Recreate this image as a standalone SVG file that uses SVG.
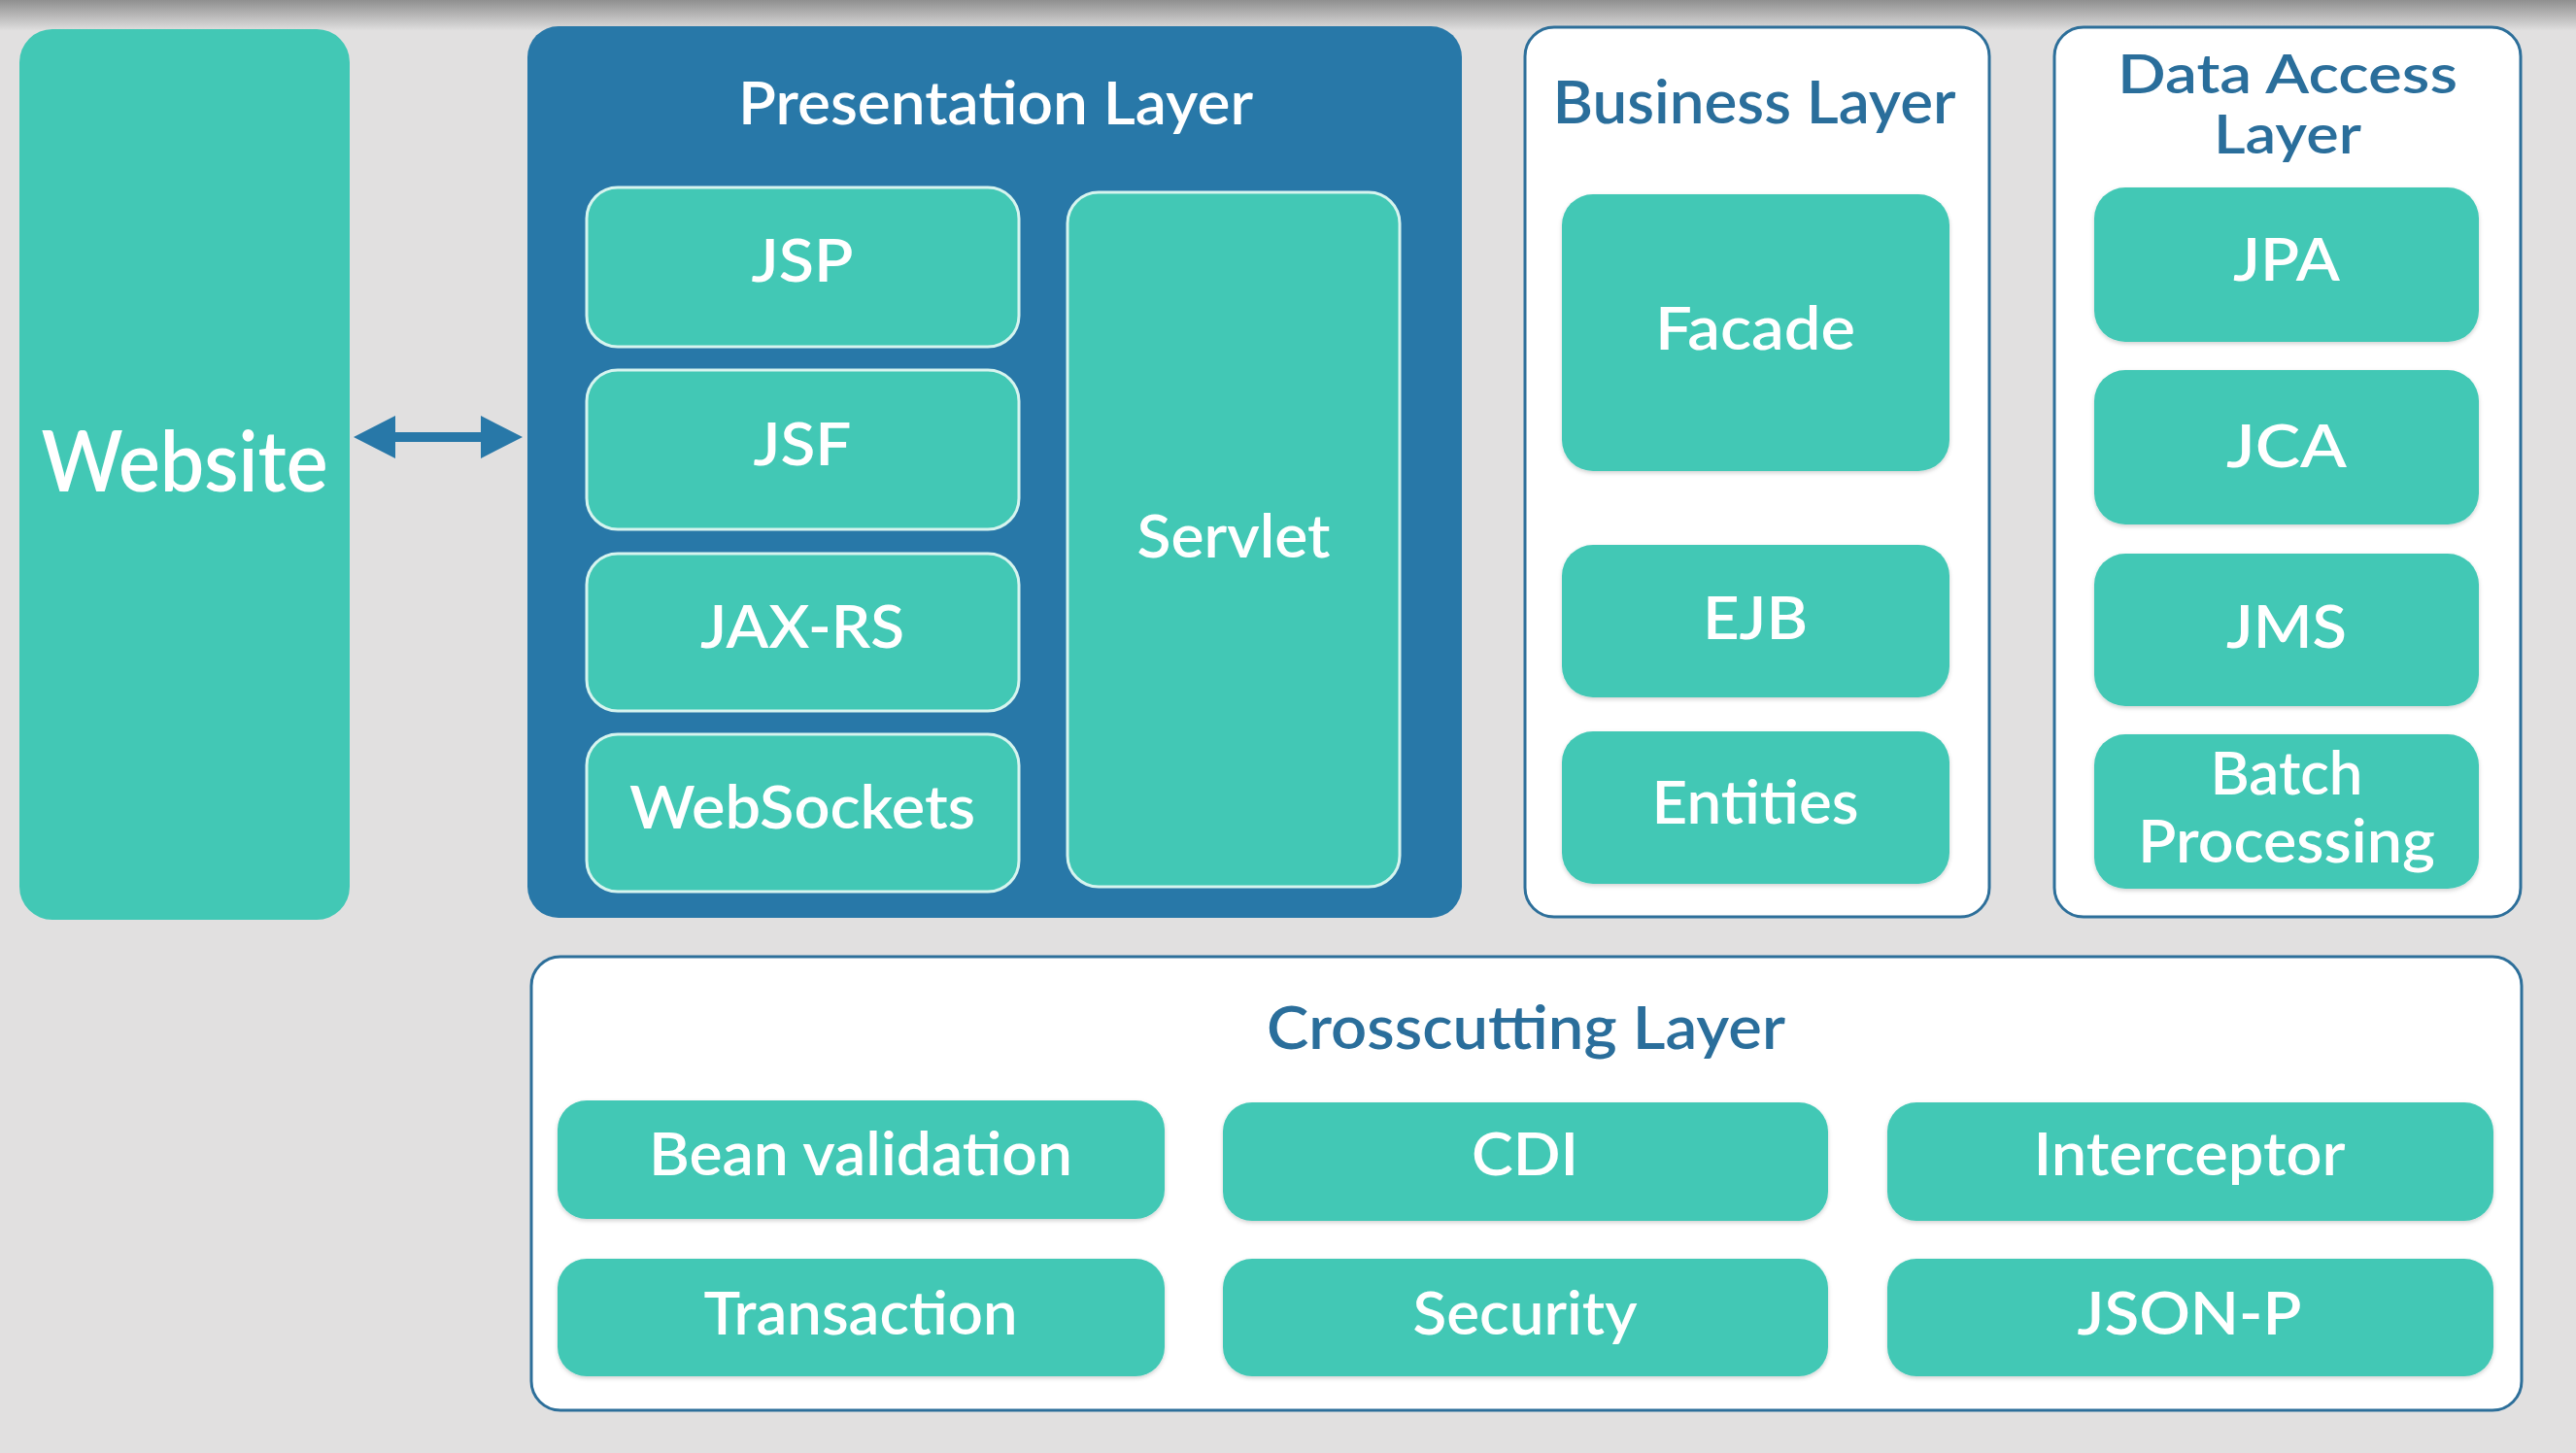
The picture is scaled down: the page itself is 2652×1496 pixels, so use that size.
<svg xmlns="http://www.w3.org/2000/svg" width="2652" height="1496" viewBox="0 0 2652 1496">
<defs>
<linearGradient id="topShade" x1="0" y1="0" x2="0" y2="1">
<stop offset="0" stop-color="#8f8f8f"/>
<stop offset="1" stop-color="#e1e0e0"/>
</linearGradient>
<filter id="sh" x="-5%" y="-5%" width="110%" height="115%">
<feDropShadow dx="0" dy="2" stdDeviation="2" flood-color="#000" flood-opacity="0.18"/>
</filter>
</defs>
<style>
.bg{fill:#e1e0e0}
.teal{fill:#42c8b5}
.tealb{fill:#42c8b5;stroke:#d6f4ef;stroke-width:3}
.pres{fill:#2878a8}
.white{fill:#ffffff;stroke:#2d6f9a;stroke-width:3}
.lbl{font-family:Lato,"Noto Sans","Liberation Sans",sans-serif;font-weight:600;fill:#ffffff;text-anchor:middle;font-size:62px}
.ttl{font-family:Lato,"Noto Sans","Liberation Sans",sans-serif;font-weight:600;fill:#2a6e9b;text-anchor:middle;font-size:62px}
.big{font-size:86px}
.two{font-size:56px}
.conn{fill:#2878a8;stroke:none}
</style>
<rect class="bg" x="0" y="0" width="2652" height="1496"/>
<rect x="0" y="0" width="2652" height="32" fill="url(#topShade)"/>

<g id="website">
<rect class="teal" x="20" y="30" width="340" height="917" rx="34"/>
<text class="lbl big" x="190" y="506" textLength="295" lengthAdjust="spacingAndGlyphs">Website</text>
</g>

<g id="presentation-layer">
<rect class="pres" x="543" y="27" width="962" height="918" rx="32"/>
<text class="lbl" x="1025" y="128" textLength="530" lengthAdjust="spacingAndGlyphs">Presentation Layer</text>
</g>
<g id="jsp">
<rect class="tealb" x="604" y="193" width="445" height="164" rx="32"/>
<text class="lbl" x="826" y="290" textLength="105" lengthAdjust="spacingAndGlyphs">JSP</text>
</g>
<g id="jsf">
<rect class="tealb" x="604" y="381" width="445" height="164" rx="32"/>
<text class="lbl" x="826" y="479" textLength="101" lengthAdjust="spacingAndGlyphs">JSF</text>
</g>
<g id="jax-rs">
<rect class="tealb" x="604" y="570" width="445" height="162" rx="32"/>
<text class="lbl" x="826" y="667" textLength="210" lengthAdjust="spacingAndGlyphs">JAX-RS</text>
</g>
<g id="websockets">
<rect class="tealb" x="604" y="756" width="445" height="162" rx="32"/>
<text class="lbl" x="826" y="853" textLength="356" lengthAdjust="spacingAndGlyphs">WebSockets</text>
</g>
<g id="servlet">
<rect class="tealb" x="1099" y="198" width="342" height="715" rx="32"/>
<text class="lbl" x="1270" y="574" textLength="199" lengthAdjust="spacingAndGlyphs">Servlet</text>
</g>

<g id="business-layer">
<rect class="white" x="1570" y="28" width="478" height="916" rx="30"/>
<text class="ttl" x="1806" y="127" textLength="415" lengthAdjust="spacingAndGlyphs">Business Layer</text>
</g>
<g id="facade">
<rect class="teal" filter="url(#sh)" x="1608" y="200" width="399" height="285" rx="32"/>
<text class="lbl" x="1807" y="360" textLength="206" lengthAdjust="spacingAndGlyphs">Facade</text>
</g>
<g id="ejb">
<rect class="teal" filter="url(#sh)" x="1608" y="561" width="399" height="157" rx="32"/>
<text class="lbl" x="1807" y="658" textLength="108" lengthAdjust="spacingAndGlyphs">EJB</text>
</g>
<g id="entities">
<rect class="teal" filter="url(#sh)" x="1608" y="753" width="399" height="157" rx="32"/>
<text class="lbl" x="1807" y="848" textLength="213" lengthAdjust="spacingAndGlyphs">Entities</text>
</g>

<g id="data-access-layer">
<rect class="white" x="2115" y="28" width="480" height="916" rx="30"/>
<text class="ttl two" x="2355" y="96" textLength="350" lengthAdjust="spacingAndGlyphs">Data Access</text>
<text class="ttl two" x="2355" y="158" textLength="152" lengthAdjust="spacingAndGlyphs">Layer</text>
</g>
<g id="jpa">
<rect class="teal" filter="url(#sh)" x="2156" y="193" width="396" height="159" rx="32"/>
<text class="lbl" x="2354" y="289" textLength="110" lengthAdjust="spacingAndGlyphs">JPA</text>
</g>
<g id="jca">
<rect class="teal" filter="url(#sh)" x="2156" y="381" width="396" height="159" rx="32"/>
<text class="lbl" x="2354" y="481" textLength="124" lengthAdjust="spacingAndGlyphs">JCA</text>
</g>
<g id="jms">
<rect class="teal" filter="url(#sh)" x="2156" y="570" width="396" height="157" rx="32"/>
<text class="lbl" x="2354" y="667" textLength="124" lengthAdjust="spacingAndGlyphs">JMS</text>
</g>
<g id="batch-processing">
<rect class="teal" filter="url(#sh)" x="2156" y="756" width="396" height="159" rx="32"/>
<text class="lbl" x="2354" y="818" textLength="157" lengthAdjust="spacingAndGlyphs">Batch</text>
<text class="lbl" x="2354" y="888" textLength="306" lengthAdjust="spacingAndGlyphs">Processing</text>
</g>

<g id="crosscutting-layer">
<rect class="white" x="547" y="985" width="2049" height="467" rx="30"/>
<text class="ttl" x="1571" y="1080" textLength="534" lengthAdjust="spacingAndGlyphs">Crosscutting Layer</text>
</g>
<g id="bean-validation">
<rect class="teal" filter="url(#sh)" x="574" y="1133" width="625" height="122" rx="30"/>
<text class="lbl" x="886" y="1210" textLength="436" lengthAdjust="spacingAndGlyphs">Bean validation</text>
</g>
<g id="cdi">
<rect class="teal" filter="url(#sh)" x="1259" y="1135" width="623" height="122" rx="30"/>
<text class="lbl" x="1570" y="1210" textLength="110" lengthAdjust="spacingAndGlyphs">CDI</text>
</g>
<g id="interceptor">
<rect class="teal" filter="url(#sh)" x="1943" y="1135" width="624" height="122" rx="30"/>
<text class="lbl" x="2254" y="1210" textLength="321" lengthAdjust="spacingAndGlyphs">Interceptor</text>
</g>
<g id="transaction">
<rect class="teal" filter="url(#sh)" x="574" y="1296" width="625" height="121" rx="30"/>
<text class="lbl" x="886" y="1374" textLength="323" lengthAdjust="spacingAndGlyphs">Transaction</text>
</g>
<g id="security">
<rect class="teal" filter="url(#sh)" x="1259" y="1296" width="623" height="121" rx="30"/>
<text class="lbl" x="1570" y="1374" textLength="231" lengthAdjust="spacingAndGlyphs">Security</text>
</g>
<g id="json-p">
<rect class="teal" filter="url(#sh)" x="1943" y="1296" width="624" height="121" rx="30"/>
<text class="lbl" x="2254" y="1374" textLength="231" lengthAdjust="spacingAndGlyphs">JSON-P</text>
</g>

<g id="connectors">
<path class="conn" d="M364,450 L407,428 L407,445 L495,445 L495,428 L538,450 L495,472 L495,455 L407,455 L407,472 Z"/>
</g>
</svg>
